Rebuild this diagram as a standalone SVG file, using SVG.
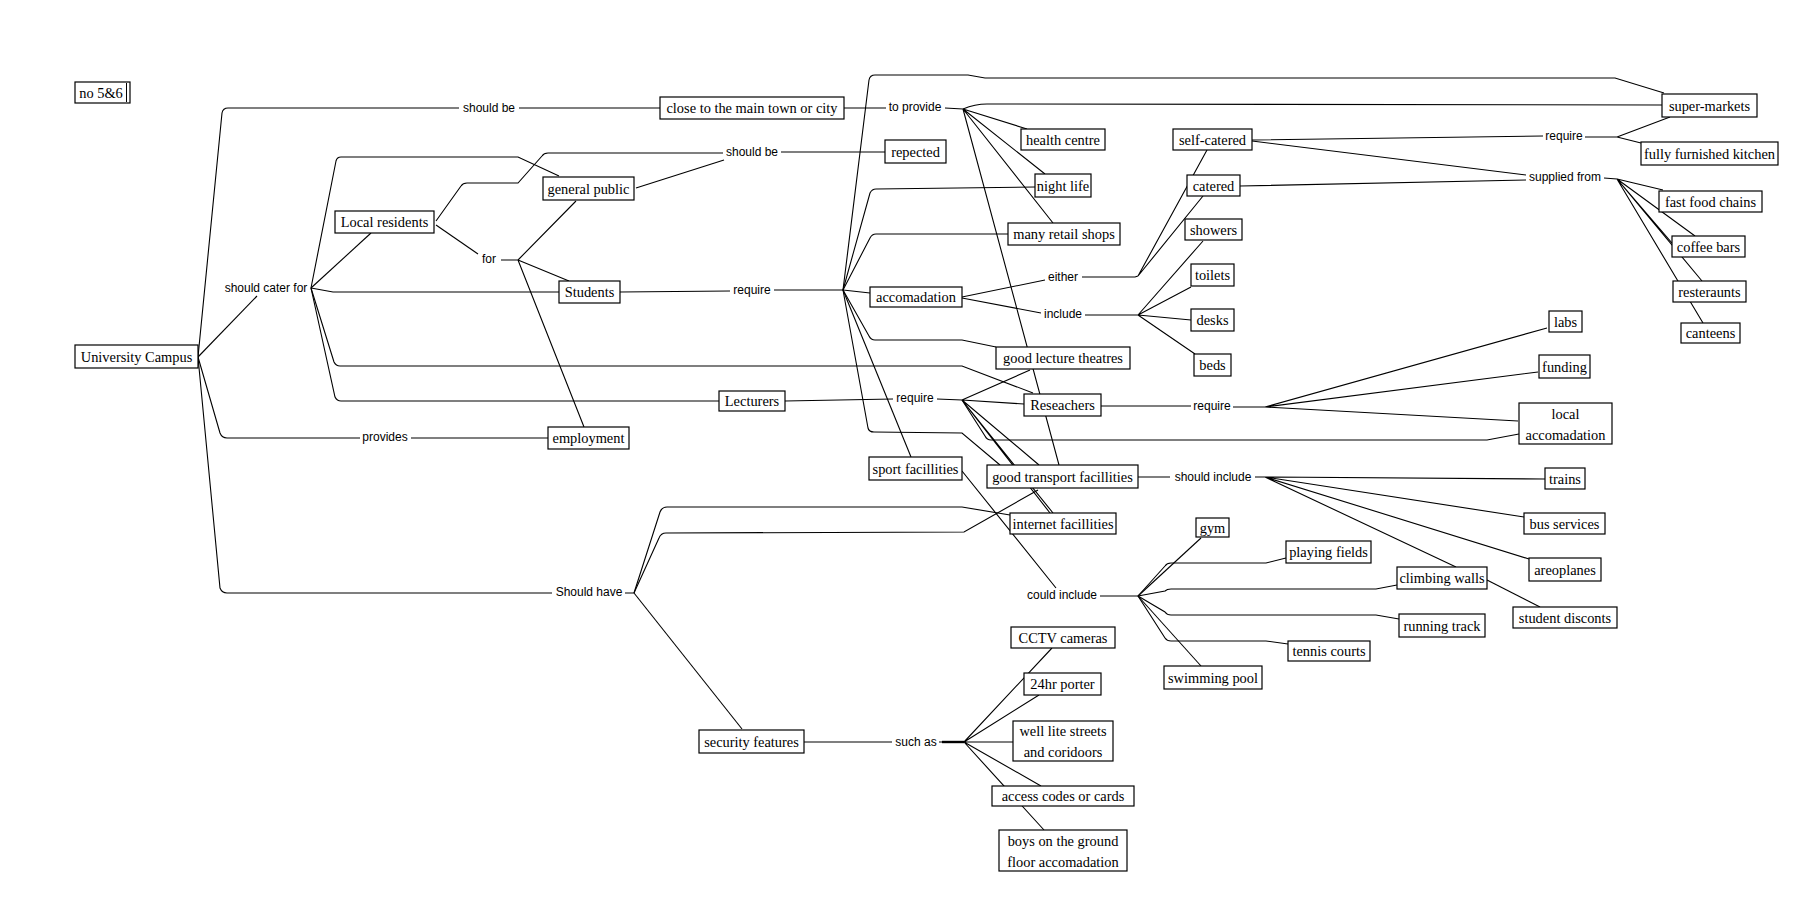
<svg xmlns="http://www.w3.org/2000/svg" width="1819" height="912" viewBox="0 0 1819 912">
<style>
.c{fill:none;stroke:#000;stroke-width:1.1}
.n rect{fill:#fff;stroke:#000;stroke-width:1.2}
.n text{font-family:"Liberation Serif","Times New Roman",serif;font-size:14.4px;fill:#000;text-anchor:middle}
.l{font-family:"Liberation Sans",Arial,sans-serif;font-size:12px;fill:#000;text-anchor:middle}
</style>
<rect width="1819" height="912" fill="#fff"/>
<g id="connectors">
<path class="c" d="M198,357 L222,113 Q223,108 228,108 L459,108 M519,108 L660,108"/>
<path class="c" d="M198,357 L257,296"/>
<path class="c" d="M198,357 L220,433 Q222,438 227,438 L360,438 M411,438 L548,438"/>
<path class="c" d="M198,357 L220,588 Q222,593 227,593 L552,593"/>
<path class="c" d="M311,288 L371,233"/>
<path class="c" d="M311,288 L336,161 Q337,157 341,157 L518,157 L559,176"/>
<path class="c" d="M311,288 L333,292 L559,292"/>
<path class="c" d="M311,288 L334,362 Q336,366 340,366 L962,366 L1033,393"/>
<path class="c" d="M311,288 L335,397 Q337,401 341,401 L719,401"/>
<path class="c" d="M436,221 L461,186 Q463,183 467,183 L518,183 L542,156 Q544,153 548,153 L723,153"/>
<path class="c" d="M636,188 L724,160"/>
<path class="c" d="M781,152 L885,152"/>
<path class="c" d="M436,225 L478,254"/>
<path class="c" d="M501,260 L518,260 M518,260 L576,201 M518,260 L569,281 M518,260 L584,427"/>
<path class="c" d="M620,292 L730,291 M774,290 L843,290"/>
<path class="c" d="M843,290 L869,80 Q870,75 875,75 L968,75 L985,78 L1615,78 L1664,93"/>
<path class="c" d="M843,290 L870,193 Q872,189 876,189 L1035,187"/>
<path class="c" d="M843,290 L870,238 Q872,234 876,234 L1008,234"/>
<path class="c" d="M843,290 L870,293"/>
<path class="c" d="M843,290 L869,336 Q871,340 875,340 L962,340 L996,347"/>
<path class="c" d="M843,290 L868,428 Q869,432 874,432 L962,433 L1000,465"/>
<path class="c" d="M843,290 L911,457"/>
<path class="c" d="M844,108 L886,108 M945,108 L963,109"/>
<path class="c" d="M963,109 Q975,104 987,104 L1662,105"/>
<path class="c" d="M963,109 L1027,129 M963,109 L1045,174 M963,109 L1053,223 M963,109 L1059,465"/>
<path class="c" d="M962,297 L1045,280 M1082,277 L1135,277 L1138,276 M1138,276 L1207,150 M1138,276 L1203,196"/>
<path class="c" d="M962,298 L1041,313 M1085,315 L1138,315 M1138,315 L1203,241 M1138,315 L1191,287 M1138,315 L1191,320 M1138,315 L1195,354"/>
<path class="c" d="M1252,140 L1543,136 M1585,137 L1617,137 M1617,137 L1670,117 M1617,137 L1641,143"/>
<path class="c" d="M1252,141 L1526,175 M1240,186 L1526,180"/>
<path class="c" d="M1604,178 L1617,179 M1617,179 L1663,190 M1617,179 L1695,236 M1617,179 L1672,243 M1617,179 L1702,281 M1617,179 L1703,323"/>
<path class="c" d="M785,401 L893,399 M937,399 L962,400"/>
<path class="c" d="M962,400 L1030,370 M962,400 L1024,404 M962,400 L1039,465 M962,400 L1050,513 M962,400 L1053,513"/>
<path class="c" d="M962,400 L985,436 Q987,440 991,440 L1487,440 L1519,434"/>
<path class="c" d="M1101,406 L1191,406 M1233,407 L1265,407 M1265,407 L1547,328 M1265,407 L1538,372 M1265,407 L1518,421"/>
<path class="c" d="M625,593 L634,593 M634,593 L660,512 Q662,507 667,507 L962,507 L1010,515"/>
<path class="c" d="M634,593 L659,538 Q661,533 666,533 L964,532 L1038,490"/>
<path class="c" d="M634,593 L742,729"/>
<path class="c" d="M962,471 L1056,588 M1100,596 L1138,596"/>
<path class="c" d="M1138,596 L1201,538"/>
<path class="c" d="M1138,596 L1165,566 Q1167,563 1171,563 L1266,563 L1286,558"/>
<path class="c" d="M1138,596 L1165,591 Q1167,589 1171,589 L1376,589 L1397,585"/>
<path class="c" d="M1138,596 L1165,612 Q1167,615 1171,615 L1376,615 L1399,619"/>
<path class="c" d="M1138,596 L1165,638 Q1167,641 1171,641 L1266,641 L1288,644"/>
<path class="c" d="M1138,596 L1201,666"/>
<path class="c" d="M1138,477 L1170,477 M1255,477 L1265,477 M1265,477 L1545,479 M1265,477 L1524,517 M1265,477 L1529,559 M1265,477 L1456,567"/>
<path class="c" d="M1487,580 L1540,607"/>
<path class="c" d="M804,742 L892,742 M939,742 L964,742"/>
<path d="M942,742 L964,742" stroke="#000" stroke-width="2.4"/>
<path class="c" d="M964,742 L1052,648 M964,742 L1039,695 M964,742 L1013,742 M964,742 L1041,786 M964,742 L1044,830"/>
</g>
<g id="labels">
<text class="l" x="489" y="112">should be</text>
<text class="l" x="266" y="292">should cater for</text>
<text class="l" x="489" y="263">for</text>
<text class="l" x="385" y="441">provides</text>
<text class="l" x="752" y="156">should be</text>
<text class="l" x="915" y="111">to provide</text>
<text class="l" x="752" y="294">require</text>
<text class="l" x="1063" y="281">either</text>
<text class="l" x="1063" y="318">include</text>
<text class="l" x="915" y="402">require</text>
<text class="l" x="1212" y="410">require</text>
<text class="l" x="1564" y="140">require</text>
<text class="l" x="1565" y="181">supplied from</text>
<text class="l" x="1213" y="481">should include</text>
<text class="l" x="1062" y="599">could include</text>
<text class="l" x="589" y="596">Should have</text>
<text class="l" x="916" y="746">such as</text>
</g>
<g id="no56" class="n"><rect x="75" y="82" width="55" height="21"/><line x1="126.5" y1="83" x2="126.5" y2="102" stroke="#000" stroke-width="1"/><text x="101" y="98">no 5&amp;6</text></g>
<g id="university-campus" class="n"><rect x="75" y="345" width="123" height="23"/><text x="136.5" y="361.5">University Campus</text></g>
<g id="close-town" class="n"><rect x="660" y="97" width="184" height="22"/><text x="752" y="113">close to the main town or city</text></g>
<g id="repected" class="n"><rect x="885" y="140" width="61" height="23"/><text x="915.5" y="156.5">repected</text></g>
<g id="local-residents" class="n"><rect x="335" y="211" width="99" height="22"/><text x="384.5" y="227">Local residents</text></g>
<g id="general-public" class="n"><rect x="543" y="177" width="91" height="23"/><text x="588.5" y="193.5">general public</text></g>
<g id="students" class="n"><rect x="559" y="281" width="61" height="22"/><text x="589.5" y="297">Students</text></g>
<g id="employment" class="n"><rect x="548" y="427" width="81" height="22"/><text x="588.5" y="443">employment</text></g>
<g id="lecturers" class="n"><rect x="719" y="391" width="66" height="20"/><text x="752" y="406">Lecturers</text></g>
<g id="health-centre" class="n"><rect x="1021" y="129" width="84" height="21"/><text x="1063" y="144.5">health centre</text></g>
<g id="night-life" class="n"><rect x="1035" y="174" width="56" height="23"/><text x="1063" y="190.5">night life</text></g>
<g id="retail-shops" class="n"><rect x="1008" y="223" width="112" height="22"/><text x="1064" y="239">many retail shops</text></g>
<g id="accomadation" class="n"><rect x="870" y="287" width="92" height="20"/><text x="916" y="302">accomadation</text></g>
<g id="lecture-theatres" class="n"><rect x="996" y="347" width="134" height="22"/><text x="1063" y="363">good lecture theatres</text></g>
<g id="reseachers" class="n"><rect x="1024" y="394" width="77" height="22"/><text x="1062.5" y="410">Reseachers</text></g>
<g id="sport-facilities" class="n"><rect x="869" y="457" width="93" height="23"/><text x="915.5" y="473.5">sport facillities</text></g>
<g id="transport-facilities" class="n"><rect x="987" y="465" width="151" height="23"/><text x="1062.5" y="481.5">good transport facillities</text></g>
<g id="internet-facilities" class="n"><rect x="1010" y="513" width="106" height="21"/><text x="1063" y="528.5">internet facillities</text></g>
<g id="self-catered" class="n"><rect x="1173" y="129" width="79" height="21"/><text x="1212.5" y="144.5">self-catered</text></g>
<g id="catered" class="n"><rect x="1187" y="175" width="53" height="21"/><text x="1213.5" y="190.5">catered</text></g>
<g id="showers" class="n"><rect x="1185" y="219" width="57" height="21"/><text x="1213.5" y="234.5">showers</text></g>
<g id="toilets" class="n"><rect x="1191" y="264" width="43" height="22"/><text x="1212.5" y="280">toilets</text></g>
<g id="desks" class="n"><rect x="1191" y="309" width="43" height="22"/><text x="1212.5" y="325">desks</text></g>
<g id="beds" class="n"><rect x="1194" y="354" width="37" height="22"/><text x="1212.5" y="370">beds</text></g>
<g id="super-markets" class="n"><rect x="1662" y="94" width="95" height="23"/><text x="1709.5" y="110.5">super-markets</text></g>
<g id="kitchen" class="n"><rect x="1641" y="142" width="137" height="23"/><text x="1709.5" y="158.5">fully furnished kitchen</text></g>
<g id="fast-food" class="n"><rect x="1659" y="191" width="103" height="21"/><text x="1710.5" y="206.5">fast food chains</text></g>
<g id="coffee-bars" class="n"><rect x="1672" y="236" width="73" height="21"/><text x="1708.5" y="251.5">coffee bars</text></g>
<g id="resteraunts" class="n"><rect x="1673" y="281" width="73" height="21"/><text x="1709.5" y="296.5">resteraunts</text></g>
<g id="canteens" class="n"><rect x="1681" y="323" width="59" height="20"/><text x="1710.5" y="338">canteens</text></g>
<g id="labs" class="n"><rect x="1549" y="311" width="33" height="21"/><text x="1565.5" y="326.5">labs</text></g>
<g id="funding" class="n"><rect x="1539" y="355" width="51" height="23"/><text x="1564.5" y="371.5">funding</text></g>
<g id="local-accomadation" class="n"><rect x="1519" y="403" width="93" height="41"/><text x="1565.5" y="419">local</text><text x="1565.5" y="440">accomadation</text></g>
<g id="trains" class="n"><rect x="1545" y="468" width="40" height="21"/><text x="1565" y="483.5">trains</text></g>
<g id="bus-services" class="n"><rect x="1524" y="513" width="81" height="21"/><text x="1564.5" y="528.5">bus services</text></g>
<g id="areoplanes" class="n"><rect x="1529" y="558" width="72" height="23"/><text x="1565" y="574.5">areoplanes</text></g>
<g id="climbing-walls" class="n"><rect x="1397" y="567" width="90" height="22"/><text x="1442" y="583">climbing walls</text></g>
<g id="student-disconts" class="n"><rect x="1513" y="607" width="104" height="21"/><text x="1565" y="622.5">student disconts</text></g>
<g id="gym" class="n"><rect x="1196" y="518" width="33" height="19"/><text x="1212.5" y="532.5">gym</text></g>
<g id="playing-fields" class="n"><rect x="1286" y="541" width="85" height="22"/><text x="1328.5" y="557">playing fields</text></g>
<g id="running-track" class="n"><rect x="1399" y="614" width="86" height="23"/><text x="1442" y="630.5">running track</text></g>
<g id="tennis-courts" class="n"><rect x="1288" y="641" width="82" height="20"/><text x="1329" y="656">tennis courts</text></g>
<g id="swimming-pool" class="n"><rect x="1164" y="666" width="98" height="23"/><text x="1213" y="682.5">swimming pool</text></g>
<g id="security-features" class="n"><rect x="699" y="730" width="105" height="23"/><text x="751.5" y="746.5">security features</text></g>
<g id="cctv" class="n"><rect x="1011" y="627" width="104" height="21"/><text x="1063" y="642.5">CCTV cameras</text></g>
<g id="porter" class="n"><rect x="1024" y="673" width="77" height="22"/><text x="1062.5" y="689">24hr porter</text></g>
<g id="well-lite" class="n"><rect x="1013" y="721" width="100" height="40"/><text x="1063" y="736">well lite streets</text><text x="1063" y="757">and coridoors</text></g>
<g id="access-codes" class="n"><rect x="992" y="786" width="142" height="20"/><text x="1063" y="801">access codes or cards</text></g>
<g id="boys-ground" class="n"><rect x="999" y="830" width="128" height="41"/><text x="1063" y="846">boys on the ground</text><text x="1063" y="867">floor accomadation</text></g>
</svg>
